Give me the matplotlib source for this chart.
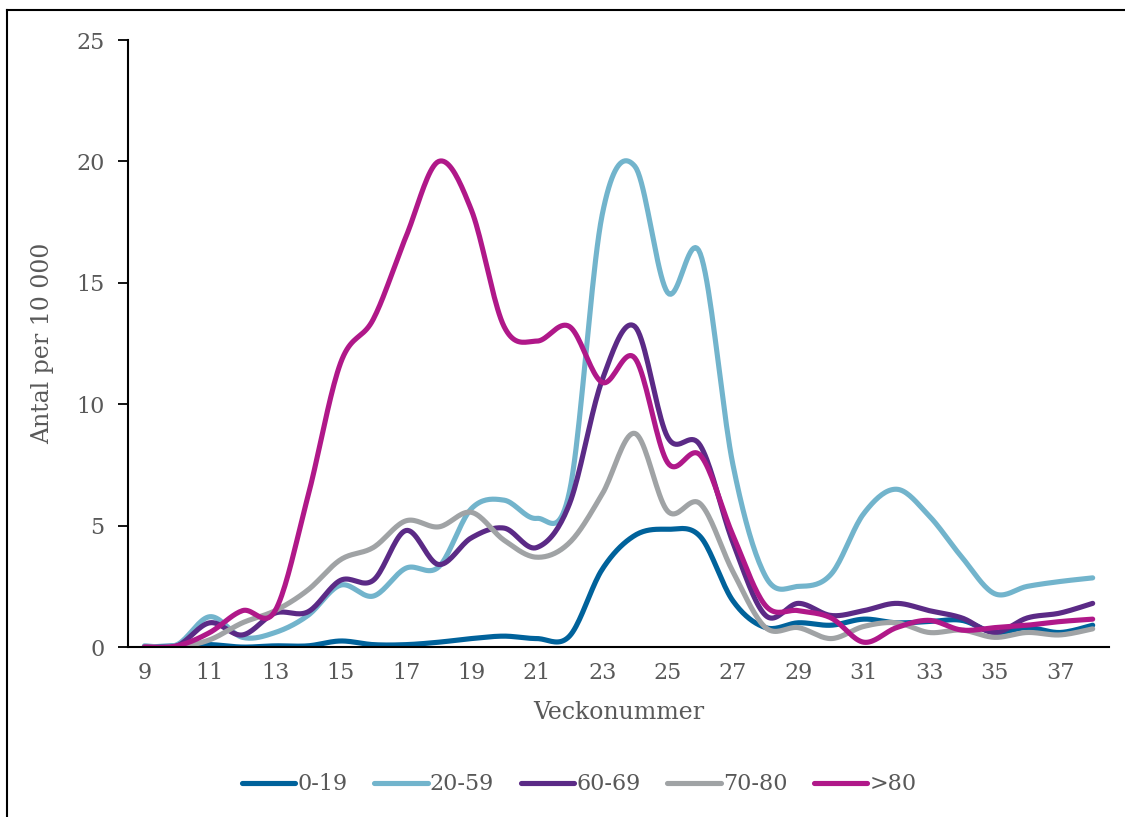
import numpy as np
import matplotlib
matplotlib.use("Agg")
import matplotlib.pyplot as plt
from matplotlib.lines import Line2D

# weekly values (antal per 10 000)
weeks = list(range(9, 39))
age_0_19 = [0, 0.05, 0.1, 0.0, 0.05, 0.05, 0.25, 0.1, 0.1, 0.2, 0.35, 0.45, 0.35, 0.45, 3.2,
            4.6, 4.85, 4.55, 1.9, 0.8, 1.0, 0.9, 1.15, 1.0, 1.05, 1.1, 0.6, 0.8, 0.6, 0.9]
age_20_59 = [0.05, 0.1, 1.25, 0.4, 0.6, 1.3, 2.55, 2.1, 3.25, 3.3, 5.7, 6.05, 5.3, 6.4, 17.8,
             19.8, 14.6, 16.2, 7.5, 2.9, 2.5, 3.0, 5.5, 6.5, 5.4, 3.7, 2.2, 2.5, 2.7, 2.85]
age_60_69 = [0, 0.05, 1.0, 0.5, 1.4, 1.45, 2.75, 2.75, 4.8, 3.4, 4.5, 4.9, 4.1, 5.9, 11.0,
             13.2, 8.65, 8.3, 4.3, 1.3, 1.8, 1.3, 1.5, 1.8, 1.5, 1.2, 0.6, 1.2, 1.4, 1.8]
age_70_80 = [0, 0, 0.3, 1.0, 1.5, 2.35, 3.6, 4.1, 5.2, 4.95, 5.55, 4.4, 3.7, 4.3, 6.3,
             8.8, 5.6, 5.9, 3.1, 0.8, 0.8, 0.35, 0.85, 1.0, 0.6, 0.7, 0.4, 0.6, 0.5, 0.75]
age_80 = [0, 0.05, 0.6, 1.5, 1.5, 6.2, 11.7, 13.5, 16.9, 20.0, 18.0, 13.2, 12.6, 13.2, 10.9,
          11.9, 7.6, 7.9, 4.6, 1.7, 1.5, 1.2, 0.2, 0.8, 1.1, 0.7, 0.8, 0.9, 1.05, 1.15]

labels = ["0-19", "20-59", "60-69", "70-80", ">80"]
series = [age_0_19, age_20_59, age_60_69, age_70_80, age_80]
colors = ["#00629B", "#72B4CC", "#5B2A86", "#A0A3A5", "#B01889"]


def smooth(x, y, n=20):
    # Excel-style smoothed line (Catmull-Rom through the points)
    x = np.asarray(x, float)
    y = np.asarray(y, float)
    px = np.concatenate([[x[0]], x, [x[-1]]])
    py = np.concatenate([[y[0]], y, [y[-1]]])
    xs, ys = [], []
    t = np.linspace(0, 1, n, endpoint=False)
    for i in range(1, len(px) - 2):
        for p, out in ((px, xs), (py, ys)):
            p0, p1, p2, p3 = p[i - 1], p[i], p[i + 1], p[i + 2]
            c1 = p1 + (p2 - p0) / 6
            c2 = p2 - (p3 - p1) / 6
            out.extend((1 - t) ** 3 * p1 + 3 * (1 - t) ** 2 * t * c1
                       + 3 * (1 - t) * t ** 2 * c2 + t ** 3 * p2)
    xs.append(x[-1])
    ys.append(y[-1])
    return np.array(xs), np.array(ys)


plt.rcParams['font.family'] = ['DejaVu Serif']
grey = "#595959"

fig = plt.figure(figsize=(11.25, 8.17), dpi=100)
ax = fig.add_axes([0.1138, 0.208, 0.872, 0.743])

for vals, lab, col in zip(series, labels, colors):
    sx, sy = smooth(weeks, vals)
    ax.plot(sx, sy, color=col, lw=3.7, solid_capstyle='round', label=lab)

ax.set_xlim(8.5, 38.5)
ax.set_ylim(0, 25)
ax.set_xticks(range(9, 39, 2))
ax.set_yticks(range(0, 26, 5))
ax.tick_params(axis='x', length=0, pad=11, labelsize=16, labelcolor=grey)
ax.tick_params(axis='y', length=7, width=1.3, pad=10, labelsize=16, labelcolor=grey)
for s in ['top', 'right']:
    ax.spines[s].set_visible(False)
for s in ['left', 'bottom']:
    ax.spines[s].set_linewidth(1.5)

ax.set_xlabel("Veckonummer", fontsize=17, color=grey, labelpad=12)
ax.set_ylabel("Antal per 10 000", fontsize=17, color=grey, labelpad=16)

handles = [Line2D([0], [0], color=c, lw=3.7, solid_capstyle='round') for c in colors]
fig.legend(handles, labels, loc='center', bbox_to_anchor=(0.515, 0.04), ncol=5,
           frameon=False, fontsize=16, labelcolor=grey, handlelength=2.4,
           handletextpad=0.1, columnspacing=1.2)

# chart area border (top and left visible)
fig.add_artist(Line2D([7 / 1125, 1], [1 - 10 / 817, 1 - 10 / 817], color='black', lw=1.5))
fig.add_artist(Line2D([7 / 1125, 7 / 1125], [0, 1 - 10 / 817], color='black', lw=1.5))

fig.savefig("out.png", dpi=100)
